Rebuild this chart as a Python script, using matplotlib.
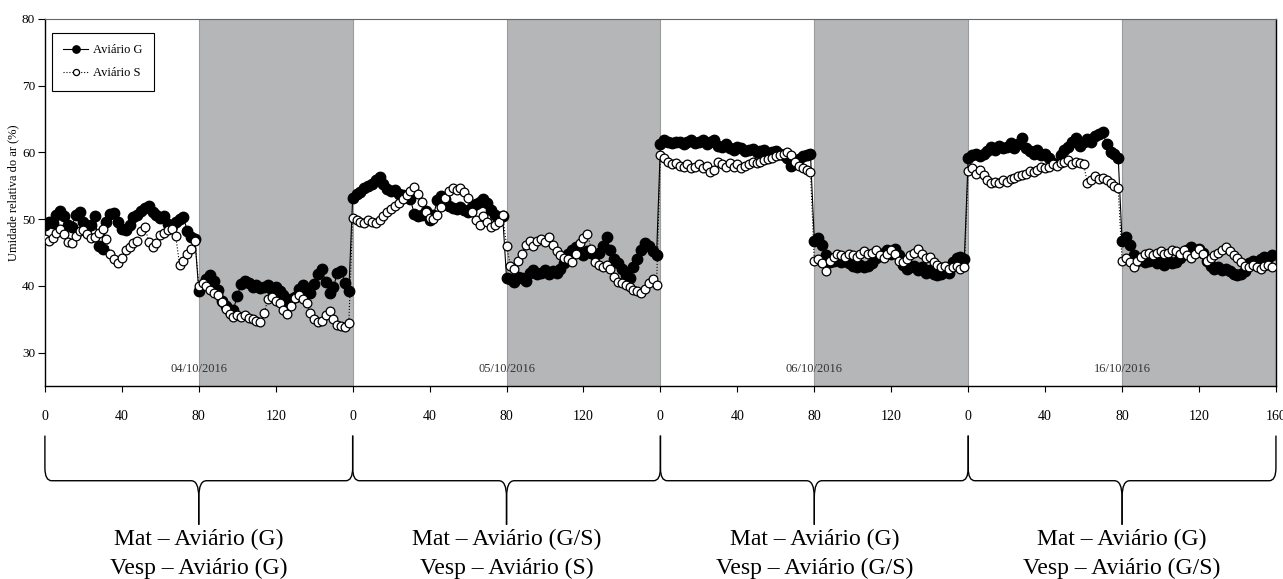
import numpy as np
import matplotlib.pyplot as plt
from matplotlib.path import Path
from matplotlib.patches import PathPatch
from matplotlib.transforms import blended_transform_factory

# umidade relativa (%) lida a cada 2 leituras, 80 pontos por dia
g_0410 = [49.2, 49.6, 49.4, 50.6, 51.2, 50.4, 49.2, 48.9, 50.6, 51.0, 49.5, 48.8, 49.2, 50.5, 46.0, 45.6,
          49.6, 50.8, 50.9, 49.6, 48.6, 48.4, 49.2, 50.3, 50.6, 51.2, 51.7, 51.9, 51.1, 50.6, 50.2, 50.4,
          49.3, 49.0, 49.6, 50.0, 50.3, 48.3, 47.4, 47.0,
          39.3, 40.2, 41.1, 41.6, 40.8, 39.4, 37.8, 37.0, 36.2, 36.4, 38.5, 40.3, 40.8, 40.5, 39.8, 40.2,
          39.7, 39.9, 40.1, 39.4, 39.8, 39.3, 38.6, 37.8, 38.0, 38.4, 39.6, 40.2, 39.3, 38.9, 40.3, 41.8,
          42.5, 40.6, 39.0, 39.8, 41.9, 42.2, 40.5, 39.2]
s_0410 = [47.0, 46.8, 47.2, 48.0, 48.6, 47.8, 46.6, 46.5, 47.5, 48.2, 48.4, 47.8, 47.2, 47.4, 48.0, 48.6,
          47.0, 44.8, 44.0, 43.4, 44.2, 45.4, 45.8, 46.4, 46.8, 48.2, 48.8, 46.6, 45.8, 46.5, 47.6, 48.0,
          48.4, 48.6, 47.5, 43.2, 43.8, 44.8, 45.6, 46.8,
          40.0, 40.4, 40.0, 39.4, 39.0, 38.6, 37.6, 36.6, 35.8, 35.4, 35.6, 35.4, 35.6, 35.2, 35.0, 34.8,
          34.6, 36.0, 38.0, 38.4, 37.8, 37.4, 36.4, 35.8, 37.0, 38.2, 38.6, 38.0, 37.4, 36.0, 35.0, 34.6,
          34.8, 35.6, 36.2, 35.0, 34.2, 34.0, 33.8, 34.4]
g_0510 = [53.2, 53.8, 54.0, 54.6, 55.0, 55.2, 55.8, 56.3, 55.2, 54.5, 54.2, 54.4, 53.8, 53.6, 53.4, 53.0,
          50.8, 50.4, 50.6, 51.2, 49.8, 50.6, 52.8, 53.4, 53.0, 52.0, 51.6, 51.5, 51.8, 51.4, 51.0, 51.8,
          52.2, 52.6, 53.0, 52.4, 51.4, 50.6, 50.2, 50.4,
          41.2, 41.0, 40.6, 41.4, 41.2, 40.8, 42.0, 42.4, 41.8, 42.0, 42.4, 41.8, 42.2, 42.0, 42.6, 43.4,
          44.8, 45.4, 45.8, 45.0, 44.6, 45.2, 45.0, 44.6, 45.0, 46.0, 47.4, 45.4, 44.0, 43.4, 42.6, 41.6,
          41.2, 42.8, 44.0, 45.4, 46.4, 46.0, 45.2, 44.6]
s_0510 = [50.2, 49.8, 49.6, 49.4, 49.8, 49.5, 49.4, 49.8, 50.4, 51.0, 51.5, 52.0, 52.4, 53.0, 53.6, 54.2,
          54.8, 53.8, 52.6, 51.0, 50.2, 50.0, 50.6, 51.8, 53.2, 54.2, 54.6, 54.4, 54.6, 54.0, 53.2, 51.0,
          49.8, 49.2, 50.4, 49.6, 48.8, 49.2, 49.6, 50.6,
          46.0, 43.0, 42.6, 43.8, 44.8, 46.2, 46.8, 46.0, 46.8, 47.0, 46.6, 47.4, 46.2, 45.2, 44.6, 44.2,
          44.0, 43.6, 44.8, 46.4, 47.2, 47.8, 45.6, 43.6, 43.2, 42.8, 43.2, 42.6, 41.4, 40.6, 40.4, 40.2,
          39.8, 39.4, 39.2, 39.0, 39.6, 40.4, 41.0, 40.2]
g_0610 = [61.2, 61.8, 61.6, 61.4, 61.6, 61.5, 61.2, 61.6, 61.8, 61.4, 61.6, 61.8, 61.2, 61.5, 61.8, 61.0,
          60.8, 61.2, 60.6, 60.4, 60.8, 60.6, 60.2, 60.4, 60.5, 60.0, 60.2, 60.4, 59.8, 60.0, 60.2, 59.8,
          59.6, 59.2, 58.0, 58.4, 59.0, 59.4, 59.6, 59.8,
          46.8, 47.2, 46.2, 44.6, 43.6, 43.8, 44.2, 43.6, 43.8, 43.4, 43.0, 42.8, 43.2, 42.8, 43.0, 43.4,
          44.2, 44.6, 45.0, 45.4, 44.8, 45.6, 44.6, 43.2, 42.6, 42.8, 43.0, 42.4, 42.8, 42.0, 42.4, 41.8,
          41.6, 41.8, 42.2, 42.0, 43.6, 44.2, 44.4, 44.0]
s_0610 = [59.6, 59.2, 58.6, 58.2, 58.4, 58.0, 57.8, 58.2, 57.6, 57.8, 58.2, 57.6, 58.0, 57.0, 57.4, 58.6,
          58.2, 57.8, 58.4, 57.8, 58.2, 57.6, 58.0, 58.2, 58.6, 58.4, 58.6, 58.8, 59.0, 59.2, 59.4, 59.6,
          59.8, 60.0, 59.6, 58.6, 58.0, 57.6, 57.4, 57.0,
          43.8, 44.0, 43.4, 42.2, 43.8, 44.4, 44.8, 44.6, 44.4, 44.8, 44.6, 44.4, 44.8, 45.2, 44.8, 45.0,
          45.4, 44.6, 44.2, 44.8, 45.4, 44.8, 43.8, 43.6, 44.0, 44.6, 45.0, 45.6, 44.8, 44.2, 44.4, 43.6,
          43.2, 42.8, 43.0, 42.6, 42.8, 43.0, 42.6, 42.8]
g_1610 = [59.2, 59.6, 59.8, 59.4, 59.8, 60.2, 60.8, 60.4, 61.0, 60.6, 60.8, 61.4, 60.6, 61.2, 62.2, 60.6,
          60.2, 59.8, 60.4, 59.6, 59.8, 59.2, 58.4, 58.2, 59.6, 60.4, 60.8, 61.6, 62.2, 61.0, 61.6, 62.0,
          61.6, 62.4, 62.8, 63.0, 61.2, 60.0, 59.8, 59.2,
          46.8, 47.4, 46.2, 44.6, 43.8, 44.2, 43.6, 43.8, 44.0, 43.4, 43.6, 43.2, 43.8, 43.4, 43.6, 44.2,
          44.8, 45.4, 45.8, 45.2, 45.6, 45.0, 43.8, 43.0, 42.6, 42.8, 42.4, 42.6, 42.2, 41.8, 41.6, 41.8,
          42.2, 43.4, 43.8, 43.6, 44.0, 44.4, 44.2, 44.6]
s_1610 = [57.2, 57.6, 56.8, 57.4, 56.6, 55.8, 55.4, 55.6, 55.4, 55.8, 55.6, 56.0, 56.2, 56.4, 56.6, 56.8,
          57.2, 57.0, 57.4, 57.8, 57.6, 57.8, 58.2, 58.0, 58.4, 58.6, 58.8, 58.2, 58.6, 58.4, 58.2, 55.4,
          55.8, 56.4, 56.0, 56.2, 55.8, 55.4, 55.0, 54.6,
          43.8, 44.2, 43.6, 42.8, 43.8, 44.4, 44.8, 45.0, 44.6, 45.0, 45.2, 44.8, 45.0, 45.4, 45.2, 44.8,
          45.4, 44.6, 44.2, 44.8, 45.6, 44.8, 43.8, 44.2, 44.6, 45.0, 45.4, 45.8, 45.2, 44.6, 44.2, 43.6,
          43.0, 42.8, 43.2, 42.8, 42.6, 43.0, 43.2, 42.8]

datas = ['04/10/2016', '05/10/2016', '06/10/2016', '16/10/2016']
mat = ['Mat – Aviário (G)', 'Mat – Aviário (G/S)', 'Mat – Aviário (G)', 'Mat – Aviário (G)']
vesp = ['Vesp – Aviário (G)', 'Vesp – Aviário (S)', 'Vesp – Aviário (G/S)', 'Vesp – Aviário (G/S)']
rotulos_x = ['0', '40', '80', '120'] * 4 + ['160']

aviario_g = g_0410 + g_0510 + g_0610 + g_1610
aviario_s = s_0410 + s_0510 + s_0610 + s_1610
tempo = np.arange(0, 640, 2)

plt.rcParams['font.family'] = ['Liberation Serif', 'DejaVu Serif']

fig = plt.figure(figsize=(12.83, 5.79), dpi=100)
ax = fig.add_axes([0.035, 0.3333, 0.9595, 0.634])

cinza = '#b4b6b7'
for k in range(4):
    ax.axvspan(k * 160 + 80, k * 160 + 160, color=cinza, ec='#9a9c9d', lw=0.8, zorder=0)

ax.plot(tempo, aviario_g, '-', color='black', lw=0.8, marker='o', ms=7.5,
        mfc='black', mec='black', label='Aviário G', zorder=2)
ax.plot(tempo, aviario_s, ':', color='black', lw=0.8, marker='o', ms=6.3,
        mfc='white', mec='black', mew=0.9, label='Aviário S', zorder=3)

ax.set_xlim(0, 640)
ax.set_ylim(25, 80)
ax.set_xticks(np.arange(0, 641, 40))
ax.set_xticklabels(rotulos_x)
ax.set_yticks([30, 40, 50, 60, 70, 80])
ax.tick_params(axis='x', direction='out', length=4, pad=13, labelsize=10)
ax.tick_params(axis='y', direction='out', length=5, pad=2, labelsize=9.5)
for lado in ['left', 'bottom', 'right']:
    ax.spines[lado].set_color('black')
    ax.spines[lado].set_linewidth(1.0)
ax.spines['top'].set_color('#666666')

fig.text(0.0105, 0.333 + 0.634 * 0.526, 'Umidade relativa do ar (%)', rotation=90,
         ha='center', va='center', fontsize=9)

leg = ax.legend(loc='upper left', bbox_to_anchor=(0.0057, 0.962), borderaxespad=0,
                fontsize=9, fancybox=False, edgecolor='black', framealpha=1, markerscale=0.7,
                handlelength=2.0, handletextpad=0.4, borderpad=0.9, labelspacing=0.9)
leg.get_frame().set_linewidth(0.8)

trans = blended_transform_factory(ax.transData, ax.transAxes)
y0, y1, y2 = -0.135, -0.258, -0.378
r = 3.5
for k in range(4):
    a = k * 160
    b = a + 160
    m = a + 80
    ax.text(m, 27.6, datas[k], ha='center', va='center', fontsize=9, color='#333333')
    for ext, sgn in [(a, 1), (b, -1)]:
        verts = [(ext, y0), (ext, y1 + 0.035), (ext, y1), (ext + sgn * r, y1),
                 (m - sgn * 4, y1), (m, y1), (m, y1 - 0.045), (m, y2)]
        codes = [Path.MOVETO, Path.LINETO, Path.CURVE3, Path.CURVE3,
                 Path.LINETO, Path.CURVE3, Path.CURVE3, Path.LINETO]
        ax.add_patch(PathPatch(Path(verts, codes), fill=False, lw=1.0, ec='black',
                               transform=trans, clip_on=False))
    ax.text(m, -0.417, mat[k], transform=trans, ha='center', va='center', fontsize=17)
    ax.text(m, -0.496, vesp[k], transform=trans, ha='center', va='center', fontsize=17)

fig.savefig('out.png', dpi=100)
